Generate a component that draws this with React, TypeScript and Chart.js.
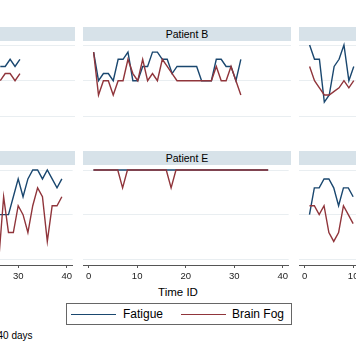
import React, { useEffect, useRef } from "react";
import { Chart, registerables } from "chart.js";

Chart.register(...registerables);

// ---------- data ----------
const xTickValues = [0, 10, 20, 30, 40];
const yTickValues = [0, 5, 10];

const timeA = [26, 27, 28, 29, 30];
const fatigueA = [7, 7, 8, 7, 8];
const fogA = [5, 6, 6, 5, 6];

const timeB = [1, 2, 3, 4, 5, 6, 7, 8, 9, 10, 11, 12, 13, 14, 15, 16, 17, 18, 19, 20, 21, 22, 23, 24, 25, 26, 27, 28, 29, 30, 31];
const fatigueB = [9, 5, 6, 6, 5, 8, 8, 9, 5, 5, 7, 7, 9, 9, 8, 8, 6, 7, 7, 7, 7, 7, 5, 5, 5, 8, 8, 7, 7, 5, 8];
const fogB = [9, 3, 5, 5, 3, 5, 5, 8, 6, 5, 8, 5, 6, 5, 8, 7, 6, 5, 5, 5, 5, 5, 5, 5, 5, 7, 5, 5, 7, 5, 3];

const timeC = [1, 2, 3, 4, 5, 6, 7, 8, 9, 10];
const fatigueC = [10, 8, 8, 2, 3, 7, 8, 10, 5, 7];
const fogC = [7, 5, 4, 3, 3, 3.5, 4, 5, 4, 5];

const timeD = [26, 27, 28, 29, 30, 31, 32, 33, 34, 35, 36, 37, 38, 39];
const fatigueD = [5, 5, 5, 7, 9, 7, 9, 10, 10, 9, 10, 9, 8, 9];
const fogD = [0, 7, 3, 3, 6, 5, 3, 6, 8, 7, 2, 6, 6, 7];

const timeE = [1, 2, 3, 4, 5, 6, 7, 8, 9, 10, 11, 12, 13, 14, 15, 16, 17, 18, 19, 20, 21, 22, 23, 24, 25, 26, 27, 28, 29, 30, 31, 32, 33, 34, 35, 36, 37];
const fatigueE = [10, 10, 10, 10, 10, 10, 10, 10, 10, 10, 10, 10, 10, 10, 10, 10, 10, 10, 10, 10, 10, 10, 10, 10, 10, 10, 10, 10, 10, 10, 10, 10, 10, 10, 10, 10, 10];
const fogE = [10, 10, 10, 10, 10, 10, 8, 10, 10, 10, 10, 10, 10, 10, 10, 10, 8, 10, 10, 10, 10, 10, 10, 10, 10, 10, 10, 10, 10, 10, 10, 10, 10, 10, 10, 10, 10];

const timeF = [1, 2, 3, 4, 5, 6, 7, 8, 9, 10];
const fatigueF = [5, 8, 8, 9, 9, 8, 6, 8, 8, 7];
const fogF = [6, 6, 5, 6, 3, 2, 3, 6, 5, 4];

const seriesNames = ["Fatigue", "Brain Fog"];
const patientNames = ["Patient A", "Patient B", "Patient C", "Patient D", "Patient E", "Patient F"];

// ---------- style ----------
const BLUE = "#1a476f";
const RED = "#90353b";
const STRIP = "#d7e2e9";
const GRID = "#e9eef1";
const AXIS = "#555555";
const FONT = "'Liberation Sans', Arial, sans-serif";

const PANEL_W = 208;
const PLOT_H = 100;
const AXIS_H = 20;
const HEADER_H = 14;
const COL_LEFT = [-133, 83, 299];
const ROW_TOP = [27, 151];
const X_MIN = -1.16;
const X_MAX = 41.22;
const Y_MIN = -0.64;
const Y_MAX = 10.56;

const toPts = (t: number[], v: number[]) => t.map((x, i) => ({ x, y: v[i] }));

type PanelProps = {
  title: string;
  time: number[];
  fatigue: number[];
  fog: number[];
  left: number;
  top: number;
  showAxis: boolean;
};

function Panel({ title, time, fatigue, fog, left, top, showAxis }: PanelProps) {
  const ref = useRef<HTMLCanvasElement | null>(null);
  const h = PLOT_H + (showAxis ? AXIS_H : 0);
  useEffect(() => {
    if (!ref.current) return;
    const chart = new Chart(ref.current, {
      type: "line",
      data: {
        datasets: [
          {
            label: seriesNames[0],
            data: toPts(time, fatigue),
            borderColor: BLUE,
            borderWidth: 1.4,
            pointRadius: 0,
            tension: 0,
            order: 1,
          },
          {
            label: seriesNames[1],
            data: toPts(time, fog),
            borderColor: RED,
            borderWidth: 1.4,
            pointRadius: 0,
            tension: 0,
            order: 0,
          },
        ],
      },
      options: {
        animation: false,
        responsive: false,
        devicePixelRatio: 1,
        layout: { padding: 0 },
        plugins: { legend: { display: false }, tooltip: { enabled: false }, title: { display: false } },
        scales: {
          x: {
            type: "linear",
            min: X_MIN,
            max: X_MAX,
            display: showAxis,
            afterBuildTicks: (s: any) => {
              s.ticks = xTickValues.map((value) => ({ value }));
            },
            afterFit: (s: any) => {
              s.height = AXIS_H;
            },
            grid: { drawOnChartArea: false, drawTicks: true, tickLength: 3, color: AXIS, lineWidth: 1 },
            border: { display: true, color: AXIS, width: 1 },
            ticks: {
              padding: 3,
              maxRotation: 0,
              autoSkip: false,
              color: "#222",
              font: { family: FONT, size: 9.5 },
            },
          },
          y: {
            type: "linear",
            min: Y_MIN,
            max: Y_MAX,
            afterBuildTicks: (s: any) => {
              s.ticks = yTickValues.map((value) => ({ value }));
            },
            afterFit: (s: any) => {
              s.width = 0;
            },
            grid: { color: GRID, lineWidth: 1, drawTicks: false },
            border: { display: false },
            ticks: { display: false },
          },
        },
      },
    });
    return () => chart.destroy();
  }, [time, fatigue, fog, showAxis]);

  return (
    <>
      <div
        style={{
          position: "absolute",
          left,
          top,
          width: PANEL_W,
          height: HEADER_H,
          background: STRIP,
          color: "#000",
          fontFamily: FONT,
          fontSize: 10.5,
          lineHeight: HEADER_H + "px",
          textAlign: "center",
          whiteSpace: "nowrap",
        }}
      >
        {title}
      </div>
      <canvas
        ref={ref}
        width={PANEL_W}
        height={h}
        style={{ position: "absolute", left, top: top + HEADER_H, width: PANEL_W, height: h }}
      />
    </>
  );
}

export default function App() {
  const panels = [
    { t: timeA, f: fatigueA, g: fogA },
    { t: timeB, f: fatigueB, g: fogB },
    { t: timeC, f: fatigueC, g: fogC },
    { t: timeD, f: fatigueD, g: fogD },
    { t: timeE, f: fatigueE, g: fogE },
    { t: timeF, f: fatigueF, g: fogF },
  ];
  return (
    <div
      style={{
        position: "fixed",
        left: 0,
        top: 0,
        width: 356,
        height: 364,
        overflow: "hidden",
        background: "#fff",
        fontFamily: FONT,
      }}
    >
      {panels.map((p, i) => (
        <Panel
          key={i}
          title={patientNames[i]}
          time={p.t}
          fatigue={p.f}
          fog={p.g}
          left={COL_LEFT[i % 3]}
          top={ROW_TOP[Math.floor(i / 3)]}
          showAxis={i >= 3}
        />
      ))}
      <div
        style={{
          position: "absolute",
          left: 118,
          top: 285,
          width: 120,
          textAlign: "center",
          fontSize: 11.5,
          lineHeight: "14px",
          color: "#000",
        }}
      >
        Time ID
      </div>
      <div
        style={{
          position: "absolute",
          left: 66,
          top: 303,
          width: 224,
          height: 20,
          border: "1px solid #666",
          fontSize: 12,
          color: "#000",
        }}
      >
        <div style={{ position: "absolute", left: 4, top: 10, width: 45, height: 0, borderTop: "1.4px solid " + BLUE }} />
        <div style={{ position: "absolute", left: 56, top: 3, lineHeight: "14px" }}>{seriesNames[0]}</div>
        <div style={{ position: "absolute", left: 114, top: 10, width: 45, height: 0, borderTop: "1.4px solid " + RED }} />
        <div style={{ position: "absolute", left: 165, top: 3, lineHeight: "14px" }}>{seriesNames[1]}</div>
      </div>
      <div style={{ position: "absolute", left: -2.5, top: 329, fontSize: 10, lineHeight: "14px", color: "#000", whiteSpace: "nowrap" }}>
        40 days
      </div>
    </div>
  );
}
